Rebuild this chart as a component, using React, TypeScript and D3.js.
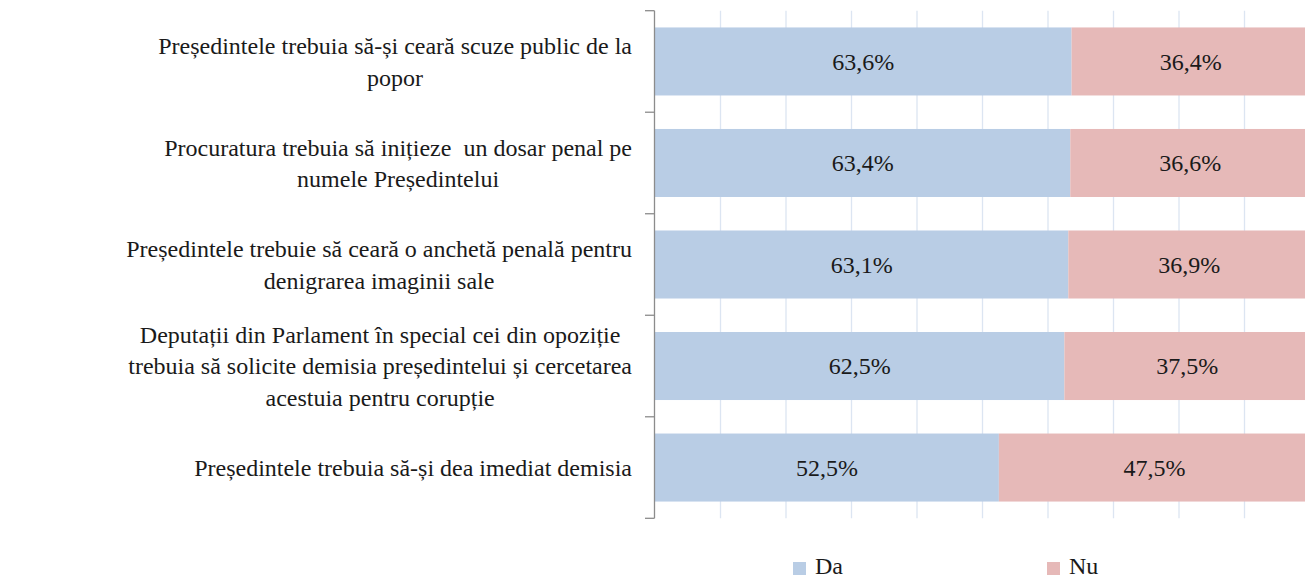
import React, { useLayoutEffect, useRef, useState } from "react";
import * as d3 from "d3";

const categories: string[][] = [
  ["Președintele trebuia să-și ceară scuze public de la", "popor"],
  ["Procuratura trebuia să inițieze  un dosar penal pe", "numele Președintelui"],
  ["Președintele trebuie să ceară o anchetă penală pentru", "denigrarea imaginii sale"],
  ["Deputații din Parlament în special cei din opoziție", "trebuia să solicite demisia președintelui și cercetarea", "acestuia pentru corupție"],
  ["Președintele trebuia să-și dea imediat demisia"],
];
const daValues = [63.6, 63.4, 63.1, 62.5, 52.5];
const nuValues = [36.4, 36.6, 36.9, 37.5, 47.5];
const seriesNames = ["Da", "Nu"];
const xTicks = [0, 10, 20, 30, 40, 50, 60, 70, 80, 90, 100];

const W = 1305;
const H = 580;
const FONT = '"Liberation Serif", Tinos, "Times New Roman", serif';
const FS = 24;
const colors = ["#B9CDE5", "#E6B9B8"];

const fmt = (v: number) => v.toFixed(1).replace(".", ",") + "%";

export default function App() {
  const measureRef = useRef<SVGGElement>(null);
  const [widths, setWidths] = useState<number[] | null>(null);

  useLayoutEffect(() => {
    const g = measureRef.current;
    if (!g) return;
    const texts = Array.from(g.querySelectorAll("text")) as SVGTextElement[];
    const lens = texts.map((t) => t.getComputedTextLength());
    let k = 0;
    setWidths(categories.map((lines) => Math.max(...lines.map(() => lens[k++]))));
  }, []);

  const x = d3.scaleLinear().domain([0, 100]).range([655, 1310]);
  const ids = categories.map((_, i) => String(i));
  const y = d3.scaleBand<string>().domain(ids).range([10.7, 518.3]).paddingInner(0.33).paddingOuter(0.165);
  const step = y.step();
  const top = 10.7;
  const bottom = 518.3;
  const labelRight = 632;
  const lineH = 31.5;
  const ts = { fontFamily: FONT, fontSize: FS } as React.CSSProperties;

  return (
    <svg width={W} height={H} style={{ position: "absolute", left: 0, top: 0, fontFamily: FONT }}>
      <style>{`text, tspan { font-family: "Liberation Serif", Tinos, "Times New Roman", serif !important; }`}</style>
      <rect width={W} height={H} fill="#fff" />
      <g ref={measureRef} visibility="hidden">
        {categories.flat().map((l, k) => (
          <text key={k} x={0} y={-100} style={{ ...ts, whiteSpace: "pre" }}>{l}</text>
        ))}
      </g>
      {xTicks.slice(1).map((t) => (
        <line key={t} x1={x(t)} x2={x(t)} y1={top} y2={bottom} stroke="#DCE5F2" strokeWidth={1.3} />
      ))}
      {ids.map((id, i) => {
        const y0 = y(id)!;
        const bw = y.bandwidth();
        const d = daValues[i];
        const n = nuValues[i];
        return (
          <g key={id}>
            <rect x={x(0)} y={y0} width={x(d) - x(0)} height={bw} fill={colors[0]} />
            <rect x={x(d)} y={y0} width={x(d + n) - x(d)} height={bw} fill={colors[1]} />
            <text x={(x(0) + x(d)) / 2} y={y0 + bw / 2} dy="0.35em" textAnchor="middle" style={ts} fill="#1a1a1a">{fmt(d)}</text>
            <text x={(x(d) + x(d + n)) / 2} y={y0 + bw / 2} dy="0.35em" textAnchor="middle" style={ts} fill="#1a1a1a">{fmt(n)}</text>
          </g>
        );
      })}
      <line x1={654.5} x2={654.5} y1={top} y2={bottom} stroke="#8C8C8C" strokeWidth={1.3} />
      {d3.range(categories.length + 1).map((k) => (
        <line key={k} x1={645} x2={654.5} y1={top + k * step} y2={top + k * step} stroke="#8C8C8C" strokeWidth={1.3} />
      ))}
      {categories.map((lines, i) => {
        const cy = y(String(i))! + y.bandwidth() / 2;
        const maxW = widths ? widths[i] : 0;
        const cx = labelRight - maxW / 2;
        const startY = cy - ((lines.length - 1) * lineH) / 2;
        return lines.map((l, j) => (
          <text key={i + "-" + j} x={cx} y={startY + j * lineH} dy="0.35em" style={{ ...ts, whiteSpace: "pre" }} fill="#1a1a1a" textAnchor="middle">{l}</text>
        ));
      })}
      {seriesNames.map((s, i) => {
        const lx = [793, 1047][i];
        return (
          <g key={s}>
            <rect x={lx} y={562} width={13} height={13} fill={colors[i]} />
            <text x={lx + 22} y={566} dy="0.35em" style={ts} fill="#1a1a1a">{s}</text>
          </g>
        );
      })}
    </svg>
  );
}
